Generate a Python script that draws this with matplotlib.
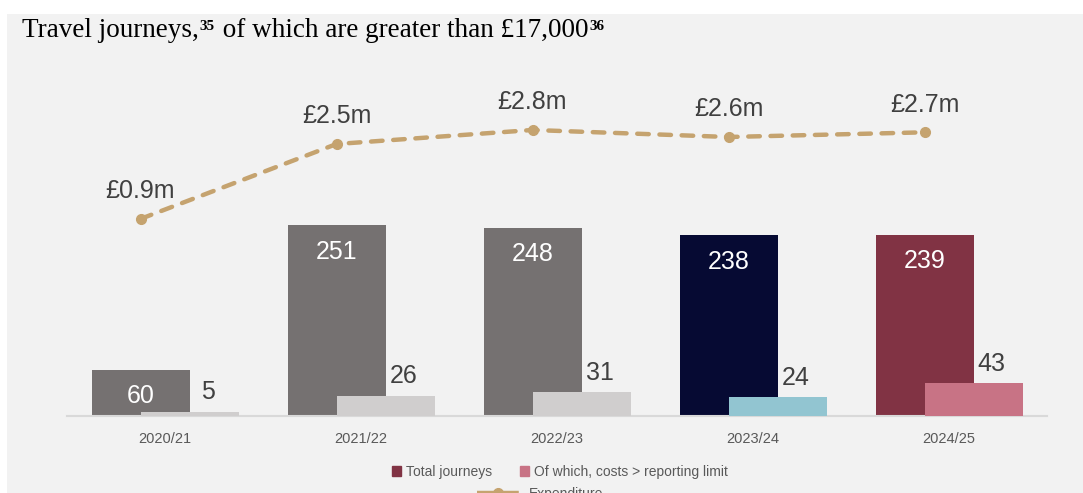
import matplotlib.pyplot as plt
import numpy as np
from matplotlib.lines import Line2D
from matplotlib.patches import Rectangle

years = ['2020/21', '2021/22', '2022/23', '2023/24', '2024/25']
total_journeys = [60, 251, 248, 238, 239]
over_limit = [5, 26, 31, 24, 43]
# expenditure in £m (labels are rounded)
expenditure = [0.9, 2.5, 2.8, 2.65, 2.75]
spend_labels = ['£0.9m', '£2.5m', '£2.8m', '£2.6m', '£2.7m']

total_colors = ['#757171', '#757171', '#757171', '#060a33', '#813344']
limit_colors = ['#d0cece', '#d0cece', '#d0cece', '#92c5d1', '#c87385']
line_color = '#c5a36f'
bg = '#f2f2f2'

W, H = 1083, 493
fig = plt.figure(figsize=(W / 100, H / 100), dpi=100)
fig.patch.set_facecolor('white')
fig.patches.append(Rectangle((7 / W, 0), 1, 1 - 14 / H, transform=fig.transFigure,
                             facecolor=bg, edgecolor='none', zorder=-10))

ax = fig.add_axes([67 / W, 1 - 415.5 / H, 980 / W, 355.5 / H])
ax.set_facecolor('none')
x = np.arange(len(years))
w = 0.5
off = 0.125

ax.bar(x - off, total_journeys, w, color=total_colors, zorder=2)
ax.bar(x + off, over_limit, w, color=limit_colors, zorder=3)

for xi, v in zip(x, total_journeys):
    ax.annotate(str(v), (xi - off, v), xytext=(0, -19), textcoords='offset points',
                ha='center', va='center', fontsize=18, color='white',
                family='Liberation Sans', zorder=5)
for xi, v in zip(x, over_limit):
    ax.annotate(str(v), (xi + off, v), xytext=(13, 14), textcoords='offset points',
                ha='center', va='center', fontsize=18, color='#404040',
                family='Liberation Sans', zorder=5)

ax.set_xlim(-0.5, len(years) - 0.5)
ax.set_ylim(0, 469.6)
ax.set_xticks(x)
ax.set_xticklabels(years, fontsize=10.5, color='#595959', family='Liberation Sans')
ax.tick_params(axis='x', length=0, pad=12)
ax.set_yticks([])
for s in ['top', 'right', 'left']:
    ax.spines[s].set_visible(False)
ax.spines['bottom'].set_color('#d9d9d9')
ax.spines['bottom'].set_linewidth(1.5)

ax2 = ax.twinx()
ax2.set_ylim(-3.30, 4.295)
ax2.plot(x - off, expenditure, color=line_color, lw=3.2, dashes=(2.6, 2.4),
         dash_capstyle='round', marker='o', markersize=7, zorder=4)
for xi, v, lab in zip(x, expenditure, spend_labels):
    ax2.annotate(lab, (xi - off, v), xytext=(0, 20), textcoords='offset points',
                 ha='center', va='center', fontsize=18, color='#404040',
                 family='Liberation Sans')
ax2.set_yticks([])
for s in ax2.spines.values():
    s.set_visible(False)

# title, drawn piece by piece for the superscripts
renderer = fig.canvas.get_renderer()
px = 22
base = 37
parts = [("Travel journeys,", 19.5, 'normal', 0),
         ("35", 11, 'bold', 7),
         (" of which are greater than £17,000", 19.5, 'normal', 0),
         ("36", 11, 'bold', 7)]
for txt, fs, wt, rise in parts:
    t = fig.text(px / W, 1 - (base - rise) / H, txt, fontsize=fs, fontweight=wt,
                 family='Liberation Serif', color='black', va='baseline', ha='left')
    px = t.get_window_extent(renderer).x1 + 1

# legend
h1 = [Rectangle((0, 0), 1, 1, color='#813344'), Rectangle((0, 0), 1, 1, color='#c87385')]
leg1 = fig.legend(h1, ['Total journeys', 'Of which, costs > reporting limit'],
                  loc='center', bbox_to_anchor=(560 / W, 1 - 472 / H), ncol=2,
                  frameon=False, handlelength=0.65, handleheight=0.65,
                  handletextpad=0.35, columnspacing=2.0,
                  prop={'family': 'Liberation Sans', 'size': 10})
for t in leg1.get_texts():
    t.set_color('#595959')
h2 = [Line2D([], [], color=line_color, lw=3.2, dashes=(4.2, 1.0), marker='o', markersize=7)]
leg2 = fig.legend(h2, ['Expenditure'], loc='center', bbox_to_anchor=(540 / W, 1 - 494 / H),
                  frameon=False, handlelength=3.1, handletextpad=0.65,
                  prop={'family': 'Liberation Sans', 'size': 10})
for t in leg2.get_texts():
    t.set_color('#595959')

fig.savefig('out.png', dpi=100)
